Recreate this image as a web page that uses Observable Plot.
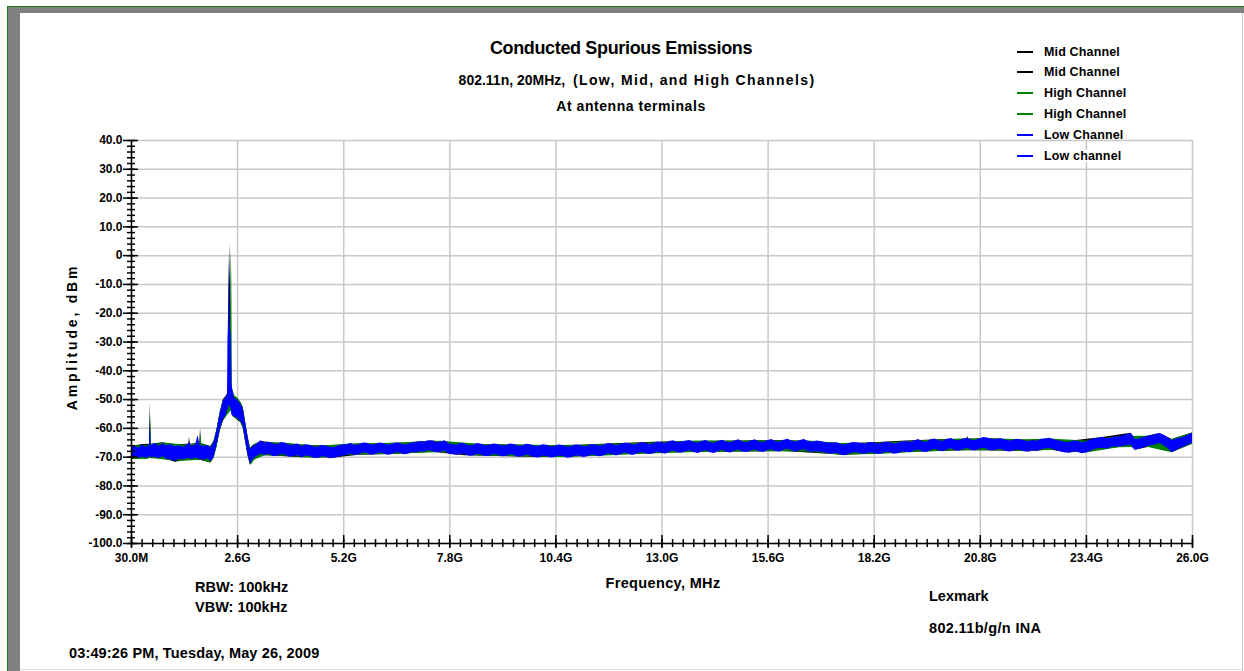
<!DOCTYPE html>
<html>
<head>
<meta charset="utf-8">
<script src="https://cdn.jsdelivr.net/npm/d3@7"></script>
<script src="https://cdn.jsdelivr.net/npm/@observablehq/plot@0.6"></script>
<style>
  body { margin: 0; background: #fff; }
  #page { position: relative; width: 1244px; height: 671px; overflow: hidden; background: #fff;
          font-family: "Liberation Sans", Arial, sans-serif; font-weight: bold; color: #000; }
  #chart { position: absolute; left: 0; top: 0; }
  .t { position: absolute; white-space: nowrap; line-height: 1; }
  .frame { position: absolute; }
</style>
</head>
<body>
<div id="page">
  <div id="chart"></div>
</div>
<script>
// ---------------- data (frequency in GHz, amplitude in dBm) ----------------
const xTickValues = [0.03, 2.627, 5.224, 7.821, 10.418, 13.015, 15.612, 18.209, 20.806, 23.403, 26.0];
const xTickLabels = ["30.0M", "2.6G", "5.2G", "7.8G", "10.4G", "13.0G", "15.6G", "18.2G", "20.8G", "23.4G", "26.0G"];
const yTickValues = [40, 30, 20, 10, 0, -10, -20, -30, -40, -50, -60, -70, -80, -90, -100];
const yTickLabels = ["40.0", "30.0", "20.0", "10.0", "0", "-10.0", "-20.0", "-30.0", "-40.0", "-50.0", "-60.0", "-70.0", "-80.0", "-90.0", "-100.0"];

const legendLabels = ["Mid Channel", "Mid Channel", "High Channel", "High Channel", "Low Channel", "Low channel"];
const legendColors = ["#000000", "#000000", "#008000", "#008000", "#0000ff", "#0000ff"];

// Low channel (blue): low band and carrier region, read point by point
const lowFreq = [
  0.03,0.10,0.20,0.30,0.40,0.47,0.49,0.51,0.60,0.70,
  0.80,0.90,1.00,1.10,1.20,1.30,1.40,1.45,1.50,1.60,
  1.66,1.70,1.80,1.90,1.97,2.05,2.12,2.20,2.28,2.35,
  2.38,2.39,2.40,2.42,2.44,2.47,2.49,2.55,2.62,2.70,
  2.76,2.82,2.88,2.94];
const lowTop = [
  -67.0,-66.2,-66.8,-65.9,-66.6,-65.8,-57.8,-66.0,-65.3,-66.1,
  -65.4,-66.0,-65.6,-66.4,-66.0,-66.6,-65.8,-64.8,-66.2,-65.9,
  -62.4,-65.7,-66.3,-66.0,-66.8,-65.0,-61.0,-55.0,-50.5,-49.2,
  -48.5,-30.0,-25.0,1.0,-24.0,-28.0,-45.0,-49.5,-50.0,-51.5,
  -53.0,-58.0,-63.0,-67.5];
const lowBottom = [
  -70.5,-69.8,-70.6,-70.0,-70.4,-70.1,-69.5,-70.3,-70.0,-70.6,
  -69.9,-70.8,-71.0,-71.4,-70.7,-71.0,-70.5,-70.6,-70.9,-70.4,
  -70.6,-70.8,-71.1,-70.6,-71.7,-70.0,-66.0,-60.5,-57.0,-55.5,
  -54.0,-53.5,-53.0,-52.0,-52.5,-53.5,-55.5,-56.0,-56.5,-57.5,
  -59.0,-64.0,-69.0,-72.5];

// Low channel (blue): noise floor sweep points from 3.0 GHz to 26.0 GHz, one every 0.1 GHz
const lowFloorStart = 3.0;
const lowFloorStep = 0.1;
const lowFloorTop = [
  -66.5,-65.5,-64.3,-65.2,-64.8,-65.4,-65.6,-64.9,-65.2,-65.8,
  -65.9,-65.4,-66.3,-65.7,-65.9,-66.5,-66.6,-65.9,-66.2,-66.6,
  -66.7,-66.0,-65.8,-65.7,-65.3,-65.9,-65.8,-65.1,-65.2,-65.8,
  -65.7,-65.1,-65.3,-65.8,-65.7,-65.1,-65.2,-65.7,-65.6,-65.0,
  -65.0,-64.6,-64.8,-64.3,-64.4,-64.9,-64.7,-64.3,-65.3,-65.6,
  -65.8,-65.2,-65.4,-66.0,-65.9,-65.3,-65.5,-66.0,-65.9,-65.4,
  -65.6,-66.1,-66.0,-65.4,-65.6,-66.2,-66.1,-65.5,-65.7,-66.2,
  -66.3,-65.7,-65.9,-66.4,-66.3,-65.7,-66.0,-66.5,-66.4,-65.8,
  -65.9,-66.4,-66.2,-65.6,-65.8,-66.1,-65.9,-65.3,-65.5,-66.0,
  -65.7,-65.2,-65.3,-65.8,-65.6,-65.0,-65.1,-65.6,-65.4,-64.8,
  -64.9,-65.3,-64.6,-64.3,-65.0,-64.7,-64.5,-64.2,-64.9,-65.1,
  -64.6,-64.2,-65.0,-65.2,-64.5,-64.1,-64.8,-65.0,-64.4,-64.0,
  -64.8,-64.9,-64.4,-64.0,-64.7,-64.9,-64.3,-63.9,-64.6,-64.8,
  -64.1,-63.8,-64.5,-64.7,-64.2,-63.9,-64.6,-64.8,-64.4,-64.6,
  -64.9,-65.1,-65.2,-65.0,-65.6,-65.8,-65.3,-64.9,-65.0,-65.3,
  -65.4,-64.9,-65.0,-65.4,-65.3,-64.8,-64.9,-65.4,-65.2,-64.7,
  -64.6,-64.9,-64.3,-63.9,-64.7,-64.8,-64.0,-63.7,-64.4,-64.5,
  -63.8,-63.5,-64.2,-64.3,-63.7,-63.4,-64.1,-64.2,-63.6,-63.2,
  -63.4,-63.8,-63.9,-63.5,-64.0,-64.4,-64.3,-63.8,-64.0,-64.4,
  -64.6,-64.2,-64.5,-63.8,-63.7,-63.4,-63.9,-64.3,-64.5,-64.9,
  -64.8,-64.4,-64.5,-65.0,-64.7,-64.1,-63.6,-63.4,-63.2,-63.6,
  -63.4,-62.9,-63.0,-62.6,-62.1,-61.8,-63.9,-63.7,-63.2,-62.8,
  -62.5,-62.2,-61.8,-62.4,-63.2,-64.2,-63.8,-63.4,-63.0,-62.3,
  -61.7];
const lowFloorBottom = [
  -71.0,-69.8,-69.0,-69.4,-69.0,-69.8,-69.7,-69.1,-69.3,-70.0,
  -69.8,-69.5,-70.2,-69.6,-69.8,-70.4,-70.5,-69.9,-70.0,-70.6,
  -70.4,-70.0,-69.6,-69.4,-68.9,-69.4,-69.2,-68.6,-68.7,-69.3,
  -69.1,-68.6,-68.8,-69.3,-69.2,-68.5,-68.6,-69.2,-69.0,-68.4,
  -68.6,-68.1,-68.3,-67.8,-68.0,-68.5,-68.3,-67.9,-68.9,-69.2,
  -69.4,-68.9,-69.1,-69.7,-69.6,-69.0,-69.3,-69.8,-69.7,-69.1,
  -69.3,-69.9,-69.8,-69.2,-69.4,-70.0,-69.9,-69.3,-69.6,-70.1,
  -70.3,-69.6,-69.8,-70.3,-70.1,-69.6,-69.8,-70.4,-70.2,-69.6,
  -69.7,-70.1,-69.9,-69.3,-69.5,-69.9,-69.5,-68.9,-69.1,-69.6,
  -69.2,-68.6,-68.9,-69.4,-69.0,-68.4,-68.7,-69.1,-68.9,-68.3,
  -68.6,-69.0,-68.3,-67.9,-68.5,-68.6,-68.1,-67.8,-68.4,-68.7,
  -68.1,-67.7,-68.5,-68.7,-68.0,-67.6,-68.3,-68.6,-67.9,-67.5,
  -68.2,-68.4,-67.9,-67.5,-68.1,-68.4,-67.8,-67.4,-68.0,-68.2,
  -67.6,-67.3,-67.9,-68.2,-67.7,-67.4,-68.0,-68.3,-68.1,-68.3,
  -68.6,-68.8,-68.9,-68.7,-69.3,-69.5,-69.0,-68.5,-68.6,-68.9,
  -69.0,-68.5,-68.7,-69.1,-68.9,-68.3,-68.5,-69.0,-68.8,-68.2,
  -68.3,-68.5,-67.9,-67.5,-68.2,-68.4,-67.7,-67.3,-67.9,-68.1,
  -67.5,-67.1,-67.8,-67.9,-67.4,-67.0,-67.7,-67.8,-67.3,-66.9,
  -67.5,-67.9,-67.6,-67.3,-67.8,-68.2,-68.0,-67.5,-67.7,-68.1,
  -68.2,-67.8,-68.0,-67.5,-67.2,-67.0,-67.4,-67.9,-68.3,-68.6,
  -68.6,-68.2,-68.4,-68.8,-68.6,-68.0,-67.4,-67.1,-67.0,-67.3,
  -66.7,-66.4,-66.6,-66.3,-66.0,-65.9,-67.6,-67.3,-66.8,-66.3,
  -66.0,-65.7,-65.3,-66.0,-67.0,-68.5,-67.8,-67.0,-66.5,-65.8,
  -65.3];

// Mid channel (black) envelope
const midFreq = [
  0.03,0.30,0.47,0.49,0.51,0.80,1.10,1.43,1.45,1.47,
  1.70,1.72,1.74,1.97,2.05,2.12,2.20,2.28,2.35,2.40,
  2.425,2.44,2.455,2.48,2.52,2.60,2.70,2.76,2.82,2.88,
  2.94,3.00,3.20,3.60,4.20,5.00,5.60,6.40,7.40,8.20,
  9.00,10.0,11.0,12.0,13.0,14.0,15.0,16.0,17.0,17.5,
  18.2,19.0,19.8,20.48,20.5,20.52,21.2,22.0,22.5,23.0,
  23.8,24.5,24.6,25.2,25.5,26.0];
const midTop = [
  -66.3,-65.6,-65.5,-51.2,-65.5,-65.0,-65.7,-65.5,-63.1,-65.5,
  -65.2,-60.0,-65.3,-66.3,-64.5,-60.5,-54.5,-50.0,-48.8,-47.5,
  -15.0,4.7,-15.0,-46.0,-48.5,-49.3,-51.0,-52.5,-57.5,-62.5,
  -67.0,-66.0,-64.6,-65.2,-65.9,-66.2,-65.4,-65.4,-64.4,-65.5,
  -65.7,-66.0,-65.9,-65.3,-64.7,-64.5,-64.4,-64.2,-64.9,-65.4,
  -65.0,-64.4,-64.0,-63.8,-62.8,-63.8,-63.8,-64.2,-63.7,-64.5,
  -63.2,-61.7,-63.7,-61.8,-63.9,-61.6];
const midBottom = [
  -70.9,-70.5,-70.6,-70.0,-70.6,-70.4,-71.8,-71.0,-71.0,-71.0,
  -71.2,-71.2,-71.2,-72.0,-70.4,-66.5,-61.0,-57.5,-56.0,-54.5,
  -53.5,-53.5,-53.5,-54.0,-56.0,-56.8,-58.0,-59.5,-64.5,-69.5,
  -72.8,-71.4,-69.4,-69.7,-70.2,-70.3,-69.3,-69.1,-68.3,-69.5,
  -69.8,-70.1,-69.9,-69.1,-68.6,-68.3,-68.2,-68.0,-68.9,-69.3,
  -68.9,-68.4,-68.0,-67.8,-67.8,-67.8,-67.9,-68.1,-67.5,-68.6,
  -67.3,-66.2,-67.6,-65.8,-68.4,-65.5];

// High channel (green) envelope
const highFreq = [
  0.03,0.40,0.48,0.50,0.52,0.90,1.30,1.71,1.73,1.75,
  1.97,2.05,2.12,2.20,2.28,2.35,2.44,2.46,2.47,2.485,
  2.50,2.56,2.64,2.72,2.78,2.84,2.90,2.96,3.05,3.30,
  3.80,4.60,5.40,6.20,7.00,7.60,8.60,9.60,10.6,11.6,
  12.6,13.6,14.6,15.6,16.6,17.4,18.4,19.4,20.2,21.0,
  21.8,22.6,23.4,24.2,24.9,25.5,26.0];
const highTop = [
  -66.0,-66.0,-65.6,-55.5,-65.6,-65.2,-65.8,-65.4,-61.7,-65.4,
  -66.5,-64.6,-60.8,-54.8,-50.2,-49.0,-47.8,-10.0,3.0,-8.0,
  -46.5,-48.8,-49.6,-51.2,-54.0,-59.5,-64.5,-67.2,-65.5,-64.9,
  -65.2,-66.2,-65.4,-65.3,-64.8,-64.5,-65.6,-65.8,-66.0,-65.6,
  -65.2,-64.5,-64.5,-64.3,-64.4,-65.3,-65.1,-64.3,-63.8,-63.5,
  -64.0,-63.8,-64.4,-62.8,-62.7,-63.9,-61.6];
const highBottom = [
  -70.8,-70.8,-70.5,-70.5,-70.5,-71.1,-71.4,-71.1,-71.1,-71.1,
  -72.0,-70.5,-66.8,-61.0,-57.4,-56.0,-54.5,-54.0,-54.0,-54.5,
  -55.0,-56.4,-57.0,-58.2,-61.0,-66.0,-70.0,-72.8,-71.0,-69.5,
  -69.7,-70.4,-69.3,-69.1,-68.7,-68.4,-69.6,-69.9,-70.1,-69.6,
  -69.0,-68.5,-68.3,-68.1,-68.2,-69.3,-69.0,-68.2,-67.8,-67.7,
  -68.0,-67.6,-68.6,-66.7,-66.6,-68.5,-65.5];

// ---------------- build tables ----------------
const toRows = (F, T, B) => F.map((f, i) => ({f, top: T[i], bot: B[i]}));
const lowData = toRows(lowFreq, lowTop, lowBottom).concat(
  lowFloorTop.map((t, i) => ({f: lowFloorStart + i * lowFloorStep, top: t, bot: lowFloorBottom[i]})));
const midData = toRows(midFreq, midTop, midBottom);
const highData = toRows(highFreq, highTop, highBottom);

const xLab = new Map(xTickValues.map((v, i) => [v, xTickLabels[i]]));
const yLab = new Map(yTickValues.map((v, i) => [v, yTickLabels[i]]));
const xStep = (xTickValues[1] - xTickValues[0]) / 10;
const xMinor = d3.range(0, 101).map(i => xTickValues[0] + i * xStep);
const yMinor = d3.range(-100, 41, 2);
const x0 = xTickValues[0];
const yMin = yTickValues[yTickValues.length - 1];

const chart = Plot.plot({
  width: 1244, height: 671,
  marginLeft: 131, marginRight: 52, marginTop: 140, marginBottom: 128,
  x: {domain: [x0, xTickValues[xTickValues.length - 1]], axis: null, label: null},
  y: {domain: [yMin, yTickValues[0]], axis: null, label: null},
  style: {fontFamily: "'Liberation Sans', Arial, sans-serif", fontSize: "12px", color: "#000", background: "transparent", overflow: "visible"},
  marks: [
    Plot.ruleX(xTickValues, {stroke: "#c8c8c8", strokeWidth: 1.5}),
    Plot.ruleY(yTickValues, {stroke: "#c8c8c8", strokeWidth: 1.5}),
    Plot.areaY(midData, {x: "f", y1: "bot", y2: "top", fill: "#000000"}),
    Plot.areaY(highData, {x: "f", y1: "bot", y2: "top", fill: "#008000"}),
    Plot.areaY(lowData, {x: "f", y1: "bot", y2: "top", fill: "#0000ff"}),
    Plot.ruleX([x0], {stroke: "#000", strokeWidth: 1.5}),
    Plot.ruleY([yMin], {stroke: "#000", strokeWidth: 1.5}),
    Plot.ruleY(yMinor, {x1: x0, x2: x0, insetLeft: -4, insetRight: -4, stroke: "#000", strokeWidth: 1.5}),
    Plot.ruleY(yTickValues, {x1: x0, x2: x0, insetLeft: -8, insetRight: -7, stroke: "#000", strokeWidth: 1.5}),
    Plot.ruleX(xMinor, {y1: yMin, y2: yMin, insetTop: -4, insetBottom: -4, stroke: "#000", strokeWidth: 1.5}),
    Plot.ruleX(xTickValues, {y1: yMin, y2: yMin, insetTop: -8, insetBottom: -5, stroke: "#000", strokeWidth: 1.5}),
    Plot.axisY(yTickValues, {anchor: "left", tickSize: 0, tickPadding: 9, label: null, tickFormat: d => yLab.get(d), fontWeight: "bold", fontSize: 12}),
    Plot.axisX(xTickValues, {anchor: "bottom", tickSize: 0, tickPadding: 10, label: null, tickFormat: d => xLab.get(d), fontWeight: "bold", fontSize: 12})
  ]
});
document.getElementById("chart").appendChild(chart);

// ---------------- frame and texts ----------------
const page = document.getElementById("page");
function box(left, top, w, h, bg) {
  const d = document.createElement("div");
  d.className = "frame";
  Object.assign(d.style, {left: left + "px", top: top + "px", width: w + "px", height: h + "px", background: bg});
  page.appendChild(d);
}
box(7, 6, 1237, 1, "#1a7f1a");
box(7, 6, 1, 665, "#1a7f1a");
box(8, 7, 1236, 6, "#808080");
box(8, 7, 12, 664, "#808080");
box(1242, 13, 1, 658, "#c8c8c8");
box(20, 669, 1222, 1, "#dddddd");

function text(str, x, y, opts = {}) {
  const d = document.createElement("div");
  d.className = "t";
  d.textContent = str;
  const align = opts.align || "left";
  const tx = align === "center" ? "-50%" : "0";
  Object.assign(d.style, {
    left: x + "px", top: y + "px",
    fontSize: (opts.size || 14) + "px",
    letterSpacing: (opts.ls || 0) + "px",
    transform: `translate(${tx}, -50%)`,
    background: opts.bg || "transparent"
  });
  page.appendChild(d);
  return d;
}

text("Conducted Spurious Emissions", 621, 48, {align: "center", size: 18, ls: -0.35});
const sub = document.createElement("div");
sub.className = "t";
Object.assign(sub.style, {left: "637px", top: "80px", fontSize: "14px", transform: "translate(-50%, -50%)"});
sub.innerHTML = '<span>802.11n, 20MHz,</span>&nbsp;&nbsp;<span style="letter-spacing:1.35px">(Low, Mid, and High Channels)</span>';
page.appendChild(sub);
text("At antenna terminals", 631, 105.5, {align: "center", size: 14, ls: 0.55});

// legend
const rowY = [51.5, 72.3, 93.1, 113.9, 134.7, 155.5];
legendLabels.forEach((lab, i) => {
  box(1017, rowY[i] - 1, 16, 2, legendColors[i]);
  text(lab, 1044, rowY[i], {size: 12.5, ls: 0.15, bg: i === 5 ? "#fff" : "transparent"});
});

// axis titles
const ya = text("Amplitude, dBm", 72, 337, {size: 14, ls: 2.8});
ya.style.transform = "translate(-50%, -50%) rotate(-90deg)";
text("Frequency, MHz", 663, 583, {align: "center", size: 14.5, ls: 0.35});

text("RBW: 100kHz", 195, 587, {size: 14.5});
text("VBW: 100kHz", 195, 607, {size: 14.5});
text("Lexmark", 929, 596, {size: 14.5});
text("802.11b/g/n INA", 929, 628, {size: 14.5, ls: 0.35});
text("03:49:26 PM, Tuesday, May 26, 2009", 69, 653, {size: 14.5, ls: 0.15});
</script>
</body>
</html>
